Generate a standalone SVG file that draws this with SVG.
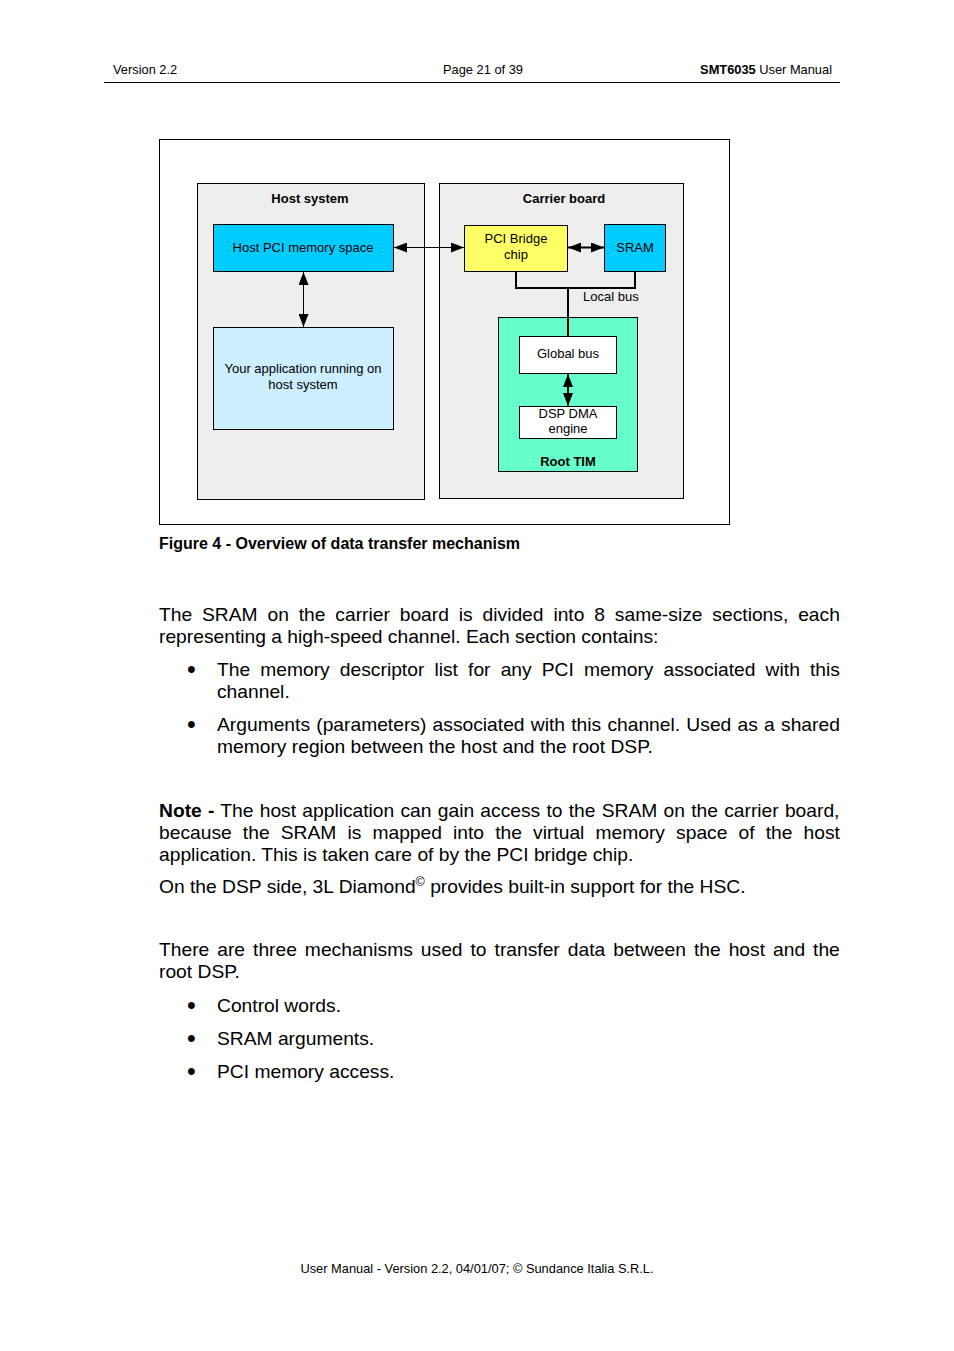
<svg xmlns="http://www.w3.org/2000/svg" width="954" height="1351" viewBox="0 0 954 1351">
<defs>
<style>
text{font-family:"Liberation Sans",Arial,sans-serif;fill:#000}
.hd{font-size:12.83px}
.dg{font-size:13px}
.dgb{font-size:13px;font-weight:bold}
.bd{font-size:19.24px}
.bl{font-size:25px}
.cap{font-size:16px;font-weight:bold}
.box{stroke:#000;stroke-width:1}
.ln{stroke:#000;stroke-width:1;fill:none}
.ln2{stroke:#000;stroke-width:2;fill:none}
</style>
<marker id="ah" markerUnits="userSpaceOnUse" markerWidth="14" markerHeight="10" refX="13" refY="5" orient="auto-start-reverse" viewBox="0 0 14 10">
<path d="M0,0 L13,5 L0,10 z" fill="#000"/>
</marker>
<marker id="ah2" markerUnits="userSpaceOnUse" markerWidth="14" markerHeight="10" refX="13" refY="5" orient="auto-start-reverse" viewBox="0 0 14 10">
<path d="M0,0 L13,5 L0,10 z" fill="#000"/>
</marker>
</defs>
<rect width="954" height="1351" fill="#fff"/>

<g id="header">
<text class="hd" x="113" y="74">Version 2.2</text>
<text class="hd" x="483" y="74" text-anchor="middle">Page 21 of 39</text>
<text class="hd" x="832" y="74" text-anchor="end"><tspan font-weight="bold">SMT6035</tspan> User Manual</text>
<line x1="104" y1="82.5" x2="840" y2="82.5" stroke="#000" stroke-width="1"/>
</g>

<g id="figure-frame">
<rect x="159.5" y="139.5" width="570" height="385" fill="#fff" class="box"/>
</g>

<g id="host-system">
<rect x="197.5" y="183.5" width="227" height="316" fill="#eeeeee" class="box"/>
<text class="dgb" x="310" y="203" text-anchor="middle">Host system</text>
</g>
<g id="carrier-board">
<rect x="439.5" y="183.5" width="244" height="315" fill="#eeeeee" class="box"/>
<text class="dgb" x="564" y="203" text-anchor="middle">Carrier board</text>
</g>

<g id="host-pci">
<rect x="213.5" y="224.5" width="180" height="47" fill="#00ccff" class="box"/>
<text class="dg" x="303" y="251.5" text-anchor="middle">Host PCI memory space</text>
</g>
<g id="your-app">
<rect x="213.5" y="327.5" width="180" height="102" fill="#cceeff" class="box"/>
<text class="dg" x="303" y="373" text-anchor="middle">Your application running on</text>
<text class="dg" x="303" y="389" text-anchor="middle">host system</text>
</g>
<g id="pci-bridge">
<rect x="464.5" y="225.5" width="103" height="46" fill="#ffff66" class="box"/>
<text class="dg" x="516" y="243" text-anchor="middle">PCI Bridge</text>
<text class="dg" x="516" y="259" text-anchor="middle">chip</text>
</g>
<g id="sram">
<rect x="604.5" y="224.5" width="61" height="47" fill="#00ccff" class="box"/>
<text class="dg" x="635" y="251.5" text-anchor="middle">SRAM</text>
</g>
<g id="root-tim">
<rect x="498.5" y="317.5" width="139" height="154" fill="#66ffcc" class="box"/>
<text class="dgb" x="568" y="466" text-anchor="middle">Root TIM</text>
</g>
<g id="global-bus">
<rect x="519.5" y="336.5" width="97" height="37" fill="#fff" class="box"/>
<text class="dg" x="568" y="358" text-anchor="middle">Global bus</text>
</g>
<g id="dsp-dma">
<rect x="519.5" y="406.5" width="97" height="32" fill="#fff" class="box"/>
<text class="dg" x="568" y="418" text-anchor="middle">DSP DMA</text>
<text class="dg" x="568" y="433" text-anchor="middle">engine</text>
</g>

<g id="connectors">
<line class="ln" x1="394" y1="247.5" x2="464" y2="247.5" marker-start="url(#ah)" marker-end="url(#ah)"/>
<line class="ln" x1="303.5" y1="272" x2="303.5" y2="327" marker-start="url(#ah)" marker-end="url(#ah)"/>
<line class="ln2" x1="568" y1="247.5" x2="604" y2="247.5" marker-start="url(#ah2)" marker-end="url(#ah2)"/>
<path class="ln2" d="M516,271 V288 H635 V271"/>
<line class="ln2" x1="568" y1="288" x2="568" y2="336"/>
<line class="ln2" x1="568" y1="374" x2="568" y2="406" marker-start="url(#ah2)" marker-end="url(#ah2)"/>
<text class="dg" x="583" y="301">Local bus</text>
</g>

<g id="caption">
<text class="cap" x="159" y="549">Figure 4 - Overview of data transfer mechanism</text>
</g>

<g id="body">
<text class="bd" x="159" y="621" word-spacing="4.53">The SRAM on the carrier board is divided into 8 same-size sections, each</text>
<text class="bd" x="159" y="643">representing a high-speed channel. Each section contains:</text>
<text class="bl" x="187" y="678">•</text>
<text class="bd" x="217" y="676" word-spacing="4.78">The memory descriptor list for any PCI memory associated with this</text>
<text class="bd" x="217" y="698">channel.</text>
<text class="bl" x="187" y="733">•</text>
<text class="bd" x="217" y="731" word-spacing="0.9">Arguments (parameters) associated with this channel. Used as a shared</text>
<text class="bd" x="217" y="753">memory region between the host and the root DSP.</text>

<text class="bd" x="159" y="817" word-spacing="0.9"><tspan font-weight="bold">Note -</tspan> The host application can gain access to the SRAM on the carrier board,</text>
<text class="bd" x="159" y="839" word-spacing="5.78">because the SRAM is mapped into the virtual memory space of the host</text>
<text class="bd" x="159" y="861">application. This is taken care of by the PCI bridge chip.</text>
<text class="bd" x="159" y="893">On the DSP side, 3L Diamond<tspan font-size="12.5px" dy="-7">©</tspan><tspan dy="7"> provides built-in support for the HSC.</tspan></text>

<text class="bd" x="159" y="956" word-spacing="2.65">There are three mechanisms used to transfer data between the host and the</text>
<text class="bd" x="159" y="978">root DSP.</text>
<text class="bl" x="187" y="1014">•</text>
<text class="bd" x="217" y="1012">Control words.</text>
<text class="bl" x="187" y="1047">•</text>
<text class="bd" x="217" y="1045">SRAM arguments.</text>
<text class="bl" x="187" y="1080">•</text>
<text class="bd" x="217" y="1078">PCI memory access.</text>
</g>

<g id="footer">
<text class="hd" x="477" y="1273" text-anchor="middle">User Manual - Version 2.2, 04/01/07; © Sundance Italia S.R.L.</text>
</g>
</svg>
